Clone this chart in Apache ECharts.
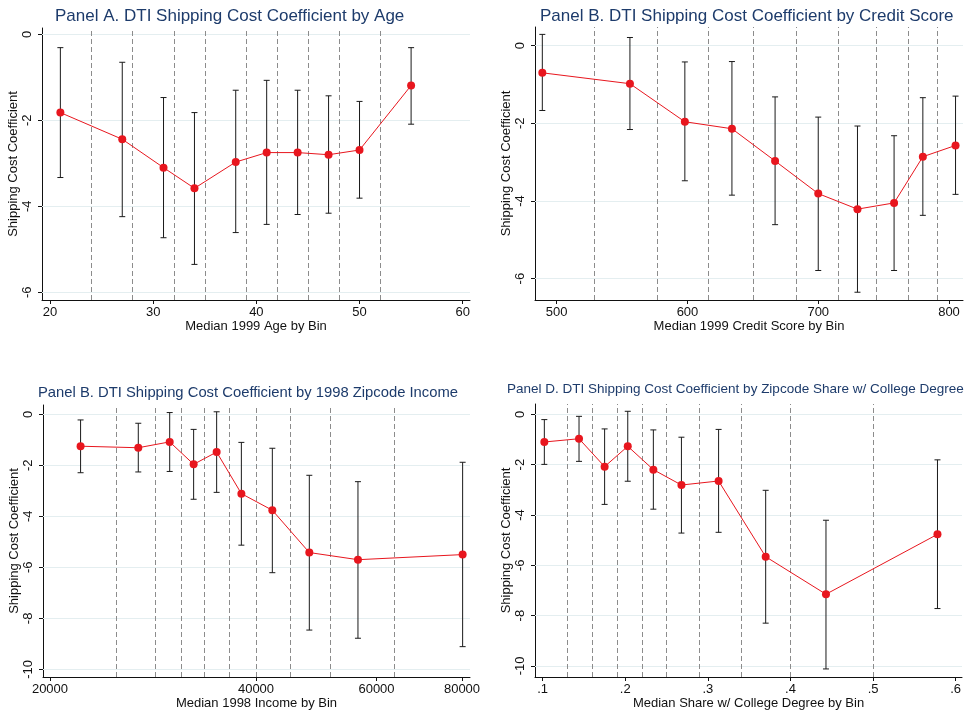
<!DOCTYPE html>
<html>
<head>
<meta charset="utf-8">
<script src="https://cdn.jsdelivr.net/npm/echarts@6/dist/echarts.min.js"></script>
<style>
	html, body { margin: 0; padding: 0; background: #fff; }
	#chart { width: 969px; height: 714px; }
</style>
</head>
<body>
<div id="chart"></div>
<script>
// Panel A - age
var ageX = [21, 27, 31, 34, 38, 41, 44, 47, 50, 55];
var ageCoef = [-1.82, -2.44, -3.10, -3.58, -2.97, -2.75, -2.75, -2.80, -2.69, -1.19];
var ageLo = [-3.33, -4.24, -4.73, -5.35, -4.61, -4.42, -4.19, -4.16, -3.81, -2.09];
var ageHi = [-0.31, -0.65, -1.47, -1.82, -1.30, -1.07, -1.30, -1.43, -1.56, -0.31];
var ageBins = [24, 28, 32, 35, 39, 42, 45, 48, 52];
var ageTicks = [20, 30, 40, 50, 60];

// Panel B - credit score
var creditX = [489, 556, 598, 634, 667, 700, 730, 758, 780, 805];
var creditCoef = [-0.70, -0.98, -1.96, -2.14, -2.97, -3.81, -4.21, -4.05, -2.86, -2.57];
var creditLo = [-1.67, -2.16, -3.48, -3.85, -4.61, -5.79, -6.35, -5.79, -4.37, -3.83];
var creditHi = [0.29, 0.21, -0.42, -0.41, -1.32, -1.84, -2.07, -2.32, -1.34, -1.30];
var creditBins = [529, 577, 616, 650, 683, 715, 744, 769, 791];
var creditTicks = [500, 600, 700, 800];

// Panel C - zipcode income (log axis)
var incomeX = [22170, 26920, 29920, 32430, 35040, 38080, 42260, 47860, 56370, 80170];
var incomeCoef = [-1.25, -1.31, -1.08, -1.96, -1.48, -3.11, -3.76, -5.42, -5.70, -5.50];
var incomeLo = [-2.29, -2.26, -2.24, -3.33, -3.06, -5.13, -6.21, -8.46, -8.78, -9.11];
var incomeHi = [-0.22, -0.35, 0.07, -0.59, 0.10, -1.10, -1.33, -2.39, -2.64, -1.88];
var incomeBins = [24970, 28540, 31150, 33650, 36530, 40050, 44950, 51410, 63700];
var incomeTicks = [20000, 40000, 60000, 80000];

// Panel D - college share
var collegeX = [0.102, 0.144, 0.175, 0.203, 0.234, 0.268, 0.313, 0.370, 0.443, 0.578];
var collegeCoef = [-1.10, -0.97, -2.08, -1.27, -2.20, -2.81, -2.65, -5.66, -7.15, -4.77];
var collegeLo = [-1.99, -1.87, -3.58, -2.66, -3.77, -4.72, -4.69, -8.30, -10.12, -7.72];
var collegeHi = [-0.21, -0.08, -0.58, 0.12, -0.62, -0.91, -0.60, -3.02, -4.21, -1.81];
var collegeBins = [0.126, 0.161, 0.189, 0.218, 0.250, 0.289, 0.340, 0.403, 0.503];
var collegeTicks = [0.1, 0.2, 0.3, 0.4, 0.5, 0.6];

var yTicksSmall = [0, -2, -4, -6];
var yTicksBig = [0, -2, -4, -6, -8, -10];

var font = "'Liberation Sans', Arial, Helvetica, sans-serif";
var titleColor = "#1d3b6b";
var red = "#e8161e";

function zip(a, b) {
	return a.map(function (v, i) { return [v, b[i]]; });
}

function xAxis(idx, type, min, max, ticks, name, fmt) {
	return {
		gridIndex: idx,
		type: type,
		min: min,
		max: max,
		name: name,
		nameLocation: "middle",
		nameGap: 19,
		nameTextStyle: { color: "#111", fontSize: 13, fontFamily: font },
		axisLine: { onZero: false, lineStyle: { color: "#111", width: 1 } },
		axisTick: { show: true, length: 4, customValues: ticks, lineStyle: { color: "#111" } },
		axisLabel: { customValues: ticks, margin: 6, color: "#111", fontSize: 13, fontFamily: font, formatter: fmt || function (v) { return String(v); } },
		splitLine: { show: false },
		minorTick: { show: false }
	};
}

function yAxis(idx, min, max, ticks) {
	return {
		gridIndex: idx,
		type: "value",
		min: min,
		max: max,
		name: "Shipping Cost Coefficient",
		nameLocation: "middle",
		nameRotate: 90,
		nameGap: 21,
		nameTextStyle: { color: "#111", fontSize: 13, fontFamily: font },
		axisLine: { show: true, onZero: false, lineStyle: { color: "#111", width: 1 } },
		axisTick: { show: true, length: 4, customValues: ticks, lineStyle: { color: "#111" } },
		axisLabel: { customValues: ticks, rotate: 90, margin: 8, color: "#111", fontSize: 13, fontFamily: font },
		splitLine: { show: false }
	};
}

// dashed bin borders + pale horizontal grid
function guides(idx, bins, yTicks) {
	var data = yTicks.map(function (v) {
		return { yAxis: v, lineStyle: { color: "#e4eef0", type: "solid", width: 1 } };
	}).concat(bins.map(function (v) {
		return { xAxis: v, lineStyle: { color: "#8c8c8c", type: [5, 3], width: 1 } };
	}));
	return {
		type: "line",
		xAxisIndex: idx,
		yAxisIndex: idx,
		data: [],
		z: 1,
		markLine: { silent: true, z: 1, symbol: "none", label: { show: false }, animation: false, data: data }
	};
}

function errBars(idx, xs, lo, hi) {
	return {
		type: "custom",
		xAxisIndex: idx,
		yAxisIndex: idx,
		z: 6,
		data: xs.map(function (v, i) { return [v, lo[i], hi[i]]; }),
		renderItem: function (params, api) {
			var top = api.coord([api.value(0), api.value(2)]);
			var bot = api.coord([api.value(0), api.value(1)]);
			var st = { stroke: "#1a1a1a", lineWidth: 1 };
			return {
				type: "group",
				children: [
					{ type: "line", shape: { x1: top[0], y1: top[1], x2: bot[0], y2: bot[1] }, style: st },
					{ type: "line", shape: { x1: top[0] - 3, y1: top[1], x2: top[0] + 3, y2: top[1] }, style: st },
					{ type: "line", shape: { x1: bot[0] - 3, y1: bot[1], x2: bot[0] + 3, y2: bot[1] }, style: st }
				]
			};
		}
	};
}

function coefLine(idx, xs, ys) {
	return {
		type: "line",
		xAxisIndex: idx,
		yAxisIndex: idx,
		z: 10,
		data: zip(xs, ys),
		symbol: "circle",
		symbolSize: 8,
		showSymbol: true,
		itemStyle: { color: red },
		lineStyle: { color: red, width: 1 }
	};
}

function title(text, left, top, size) {
	return {
		text: text,
		left: left,
		top: top,
		textStyle: { color: titleColor, fontSize: size, fontWeight: "normal", fontFamily: font }
	};
}

var myChart = echarts.init(document.getElementById("chart"), null, { renderer: "canvas" });

var option = {
	backgroundColor: "#fff",
	animation: false,
	title: [
		title("Panel A. DTI Shipping Cost Coefficient by Age", 50, 3, 17),
		title("Panel B. DTI Shipping Cost Coefficient by Credit Score", 535, 3, 17),
		title("Panel B. DTI Shipping Cost Coefficient by 1998 Zipcode Income", 33, 380, 14.8),
		title("Panel D. DTI Shipping Cost Coefficient by Zipcode Share w/ College Degree", 502, 377, 13.5)
	],
	grid: [
		{ left: 42, top: 28, width: 428, height: 272 },
		{ left: 535, top: 27, width: 428, height: 273 },
		{ left: 43, top: 405, width: 427, height: 272 },
		{ left: 535, top: 404, width: 427, height: 273 }
	],
	xAxis: [
		xAxis(0, "value", 19.22, 60.71, ageTicks, "Median 1999 Age by Bin"),
		xAxis(1, "value", 483.4, 810.7, creditTicks, "Median 1999 Credit Score by Bin"),
		xAxis(2, "log", 19536, 82180, incomeTicks, "Median 1998 Income by Bin", function (v) {
			return String(Math.round(v));
		}),
		xAxis(3, "value", 0.0907, 0.6077, collegeTicks, "Median Share w/ College Degree by Bin", function (v) {
			return String(+v.toFixed(1)).replace(/^0/, "");
		})
	],
	yAxis: [
		yAxis(0, -6.178, 0.147, yTicksSmall),
		yAxis(1, -6.55, 0.48, yTicksSmall),
		yAxis(2, -10.30, 0.366, yTicksBig),
		yAxis(3, -10.44, 0.41, yTicksBig)
	],
	series: [
		guides(0, ageBins, yTicksSmall),
		errBars(0, ageX, ageLo, ageHi),
		coefLine(0, ageX, ageCoef),
		guides(1, creditBins, yTicksSmall),
		errBars(1, creditX, creditLo, creditHi),
		coefLine(1, creditX, creditCoef),
		guides(2, incomeBins, yTicksBig),
		errBars(2, incomeX, incomeLo, incomeHi),
		coefLine(2, incomeX, incomeCoef),
		guides(3, collegeBins, yTicksBig),
		errBars(3, collegeX, collegeLo, collegeHi),
		coefLine(3, collegeX, collegeCoef)
	]
};
myChart.setOption(option);
window.addEventListener("resize", myChart.resize);
</script>
</body>
</html>
